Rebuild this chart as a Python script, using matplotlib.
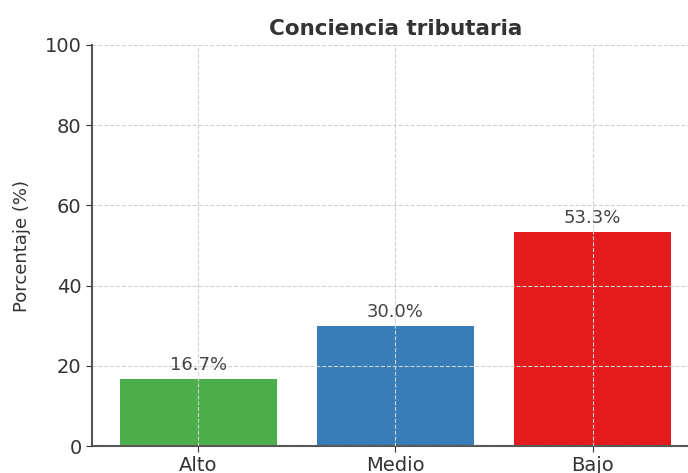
import matplotlib.pyplot as plt

# Data
categorias = ["Alto", "Medio", "Bajo"]
porcentajes = [16.7, 30.0, 53.3]
colores = ["#4daf4a", "#377eb8", "#e41a1c"]

fig = plt.figure(figsize=(6.88, 4.73), dpi=100)
# axes runs past the right edge, as in the cropped original
ax = fig.add_axes([92 / 688, 27 / 473, 607 / 688, 401 / 473])

bars = ax.bar(categorias, porcentajes, color=colores, width=0.8)

for b, v in zip(bars, porcentajes):
    ax.text(b.get_x() + b.get_width() / 2, v + 1.2, f"{v:.1f}%",
            ha="center", va="bottom", fontsize=13, color="#444444")

ax.set_ylim(0, 100)
ax.set_title("Conciencia tributaria", fontsize=15.5, fontweight="bold", color="#333333", pad=7.5)
ax.set_ylabel("Porcentaje (%)", fontsize=13, color="#333333", labelpad=10)
ax.tick_params(labelsize=14, colors="#333333", length=4)

ax.grid(True, linestyle="--", color="#d0d0d0", linewidth=0.8)
ax.set_axisbelow(False)
for s in ["top", "right"]:
    ax.spines[s].set_visible(False)
for s in ["left", "bottom"]:
    ax.spines[s].set_color("#555555")
    ax.spines[s].set_linewidth(1.5)

fig.savefig("out.png", dpi=100)
